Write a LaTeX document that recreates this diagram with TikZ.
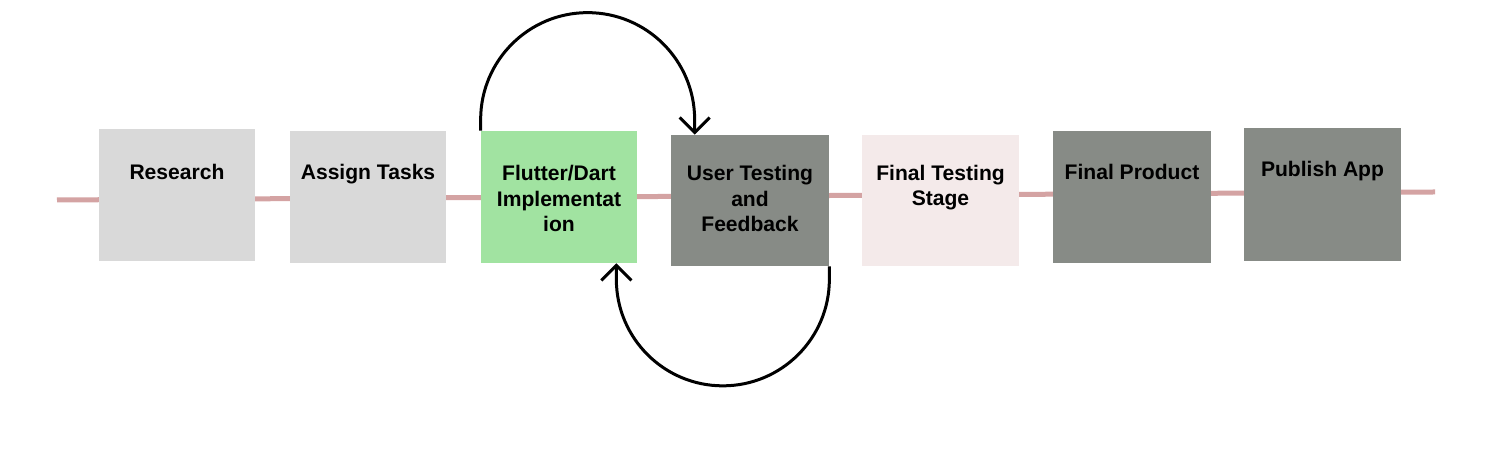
\documentclass[tikz,border=0pt]{standalone}
\usepackage{fontspec}
\setmainfont{Liberation Sans}
\usetikzlibrary{arrows.meta}

\definecolor{lightbox}{HTML}{D9D9D9}
\definecolor{greenbox}{HTML}{A1E3A1}
\definecolor{darkbox}{HTML}{878B86}
\definecolor{pinkbox}{HTML}{F4EAEA}
\definecolor{timeline}{HTML}{D4A3A3}

\begin{document}
\begin{tikzpicture}[stage/.style={rectangle,inner sep=0pt,minimum width=3.12cm,minimum height=2.64cm},
                    caption/.style={anchor=base,align=center,font=\bfseries\fontsize{12}{14.7}\selectfont},
                    loop/.style={line width=0.06cm,-{Straight Barb[length=0.3cm,width=0.6cm]}}]
    \useasboundingbox (0, 0) rectangle (29.76, 9.28);

    % Zeitachse
    \coordinate (ls) at (1.14, 5.28);
    \coordinate (le) at (28.70, 5.44);
    \draw[timeline,line width=0.1cm] (ls) -- (le);

    % Phasen
    \node[stage,fill=lightbox] (res) at (3.54, 5.38) {};
    \node[stage,fill=lightbox] (ass) at (7.36, 5.34) {};
    \node[stage,fill=greenbox] (impl) at (11.18, 5.34) {};
    \node[stage,fill=darkbox,minimum width=3.16cm,minimum height=2.62cm] (usr) at (15.00, 5.27) {};
    \node[stage,fill=pinkbox,minimum width=3.14cm,minimum height=2.62cm] (fin) at (18.81, 5.27) {};
    \node[stage,fill=darkbox,minimum width=3.16cm] (prod) at (22.64, 5.34) {};
    \node[stage,fill=darkbox,minimum width=3.14cm,minimum height=2.66cm] (pub) at (26.45, 5.39) {};

    % Beschriftungen (Grundlinie der letzten Zeile)
    \node[caption] (res-t) at (3.54, 5.68) {Research};
    \node[caption] (ass-t) at (7.36, 5.68) {Assign Tasks};
    \node[caption] (impl-t) at (11.18, 4.64) {Flutter/Dart\\Implementat\\ion};
    \node[caption] (usr-t) at (15.00, 4.64) {User Testing\\and\\Feedback};
    \node[caption] (fin-t) at (18.81, 5.16) {Final Testing\\Stage};
    \node[caption] (prod-t) at (22.64, 5.68) {Final Product};
    \node[caption] (pub-t) at (26.45, 5.74) {Publish App};

    % Schleifen
    \draw[loop] (impl.north west) -- ++(0, 0.22) arc[start angle=180, end angle=0, radius=2.14]
                coordinate (tp) -- (tp |- usr.north);
    \draw[loop] (usr.south east) -- ++(0, -0.26) arc[start angle=0, end angle=-180, radius=2.13]
                coordinate (bp) -- (bp |- impl.south);
\end{tikzpicture}
\end{document}
